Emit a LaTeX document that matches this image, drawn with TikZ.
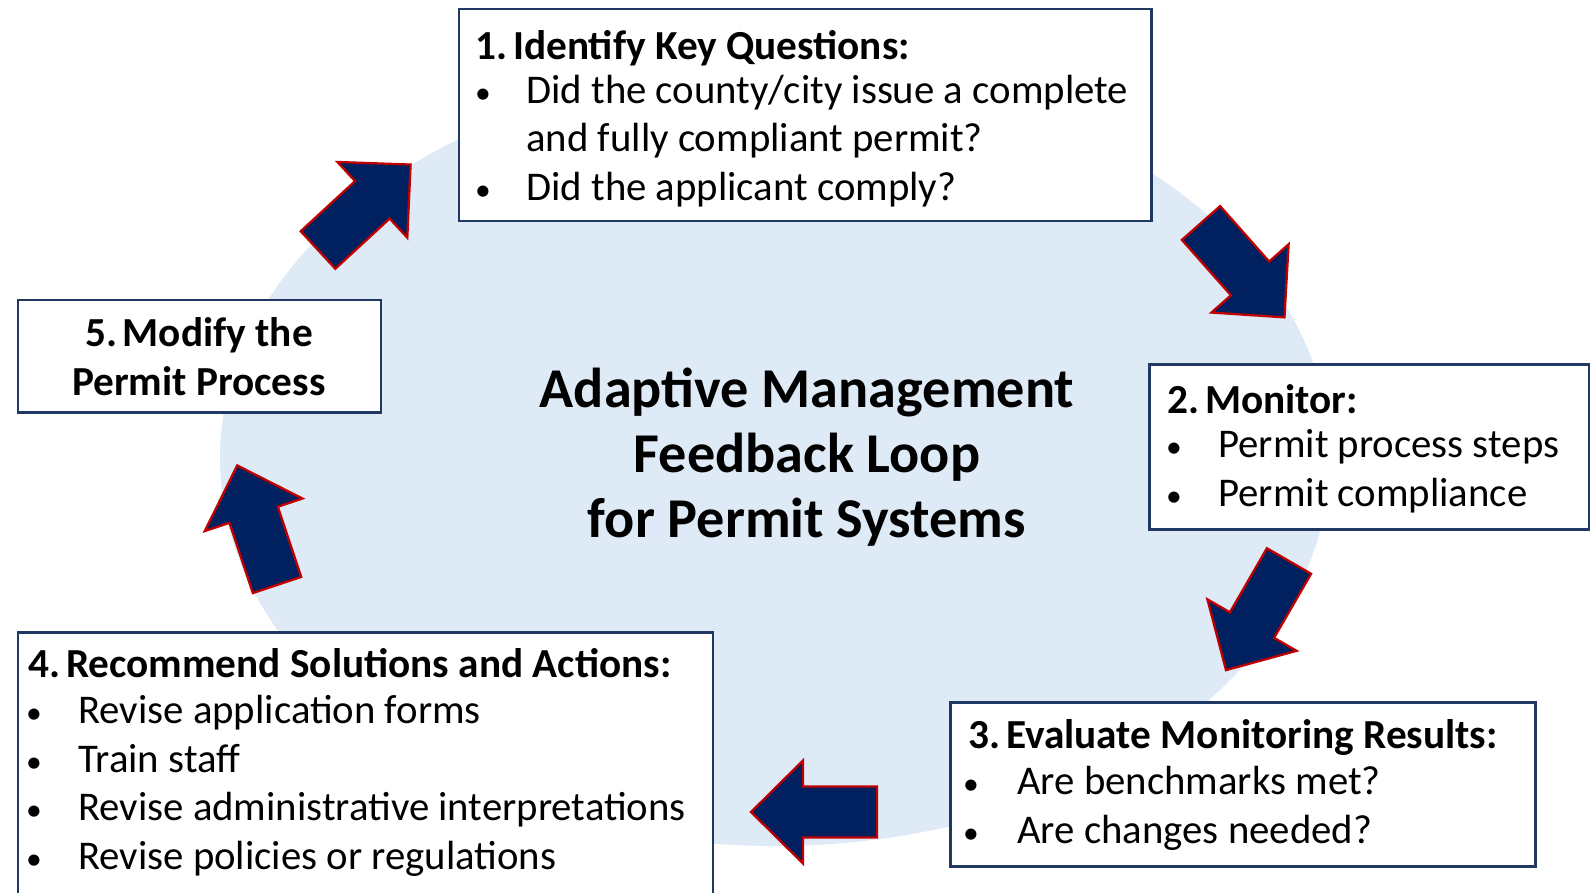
\documentclass[tikz,border=0pt]{standalone}
\usepackage{fontspec}
\setmainfont{Carlito}
\definecolor{ovalblue}{HTML}{DEEAF6}
\definecolor{boxblue}{HTML}{1F3864}
\definecolor{arrownavy}{HTML}{002060}
\definecolor{arrowred}{HTML}{C00000}
\newcommand{\numgap}{\hspace{0.14em}}
\tikzset{
  box/.style={draw=boxblue, line width=1.7pt, fill=white},
  head/.style={anchor=base west, inner sep=0pt, font=\bfseries\fontsize{23.5}{27}\selectfont},
  body/.style={anchor=base west, inner sep=0pt, font=\fontsize{23.2}{27}\selectfont},
  dot/.style={anchor=base, inner sep=0pt, font=\fontsize{18}{20}\selectfont},
  title/.style={anchor=base, inner sep=0pt, font=\bfseries\fontsize{32}{37}\selectfont},
  arrowstyle/.style={fill=arrownavy, draw=arrowred, line width=1.3pt, line join=miter},
  bigarrow/.pic={\path[arrowstyle] (0,-25.5) -- (74,-25.5) -- (74,-51.5) -- (126,0) -- (74,51.5) -- (74,25.5) -- (0,25.5) -- cycle;}
}
\begin{document}
\begin{tikzpicture}[x=0.02cm, y=-0.02cm]
\useasboundingbox (0,0) rectangle (1590,893);
% background oval
\fill[ovalblue] (775,458) ellipse [x radius=555, y radius=388];
% arrows
\pic[rotate=42.7] at (318,250) {bigarrow};
\pic[rotate=-48.5] at (1201,223) {bigarrow};
\pic[rotate=-120] at (1289,561) {bigarrow};
\pic[rotate=180] at (877,812) {bigarrow};
\pic[rotate=108.4] at (277,585) {bigarrow};
% boxes
\path[box] (459,9) rectangle (1151,221);
\path[box] (1149,364) rectangle (1589,529);
\path[box] (950,702) rectangle (1535,866);
\path[box] (18,632) rectangle (713,905);
\path[box] (18,300) rectangle (381,412);
% title
\node[title] (t1) at (807,407) {Adaptive Management};
\node[title] (t2) at (807,472) {Feedback Loop};
\node[title] (t3) at (807,537) {for Permit Systems};
% box 1
\node[head] (h1) at (475,59) {1.\numgap Identify Key Questions:};
\node[dot] (b1a) at (483,103) {•};
\node[body] (t1a) at (526,103) {Did the county/city issue a complete};
\node[body] (t1b) at (526,151) {and fully compliant permit?};
\node[dot] (b1c) at (483,200) {•};
\node[body] (t1c) at (526,200) {Did the applicant comply?};
% box 2
\node[head] (h2) at (1167,413) {2.\numgap Monitor:};
\node[dot] (b2a) at (1174,457) {•};
\node[body] (t2a) at (1218,457) {Permit process steps};
\node[dot] (b2b) at (1174,506) {•};
\node[body] (t2b) at (1218,506) {Permit compliance};
% box 3
\node[head] (h3) at (968,748) {3.\numgap Evaluate Monitoring Results:};
\node[dot] (b3a) at (971,794) {•};
\node[body] (t3a) at (1017,794) {Are benchmarks met?};
\node[dot] (b3b) at (971,843) {•};
\node[body] (t3b) at (1017,843) {Are changes needed?};
% box 4
\node[head] (h4) at (28,677) {4.\numgap Recommend Solutions and Actions:};
\node[dot] (b4a) at (34,723) {•};
\node[body] (t4a) at (78,723) {Revise application forms};
\node[dot] (b4b) at (34,772) {•};
\node[body] (t4b) at (78,772) {Train staff};
\node[dot] (b4c) at (34,820) {•};
\node[body] (t4c) at (78,820) {Revise administrative interpretations};
\node[dot] (b4d) at (34,869) {•};
\node[body] (t4d) at (78,869) {Revise policies or regulations};
% box 5
\node[head, anchor=base] (h5a) at (199,346) {5.\numgap Modify the};
\node[head, anchor=base] (h5b) at (199,395) {Permit Process};
\end{tikzpicture}
\end{document}
